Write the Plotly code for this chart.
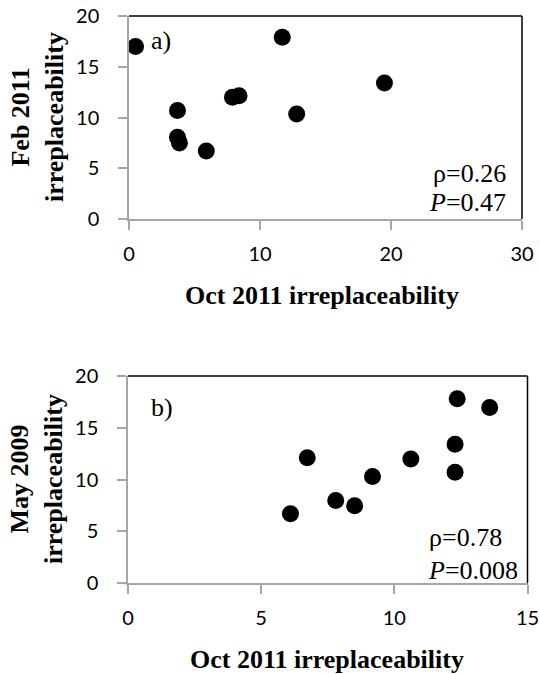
import plotly.graph_objects as go

# Panel a data
a_x = [0.5, 11.7, 19.5, 3.7, 7.9, 8.4, 12.8, 3.7, 3.85, 5.9]
a_y = [17.0, 17.9, 13.4, 10.7, 12.0, 12.15, 10.35, 8.05, 7.5, 6.7]
# Panel b data
b_x = [12.36, 13.58, 12.28, 12.28, 10.62, 6.73, 9.18, 7.8, 8.51, 6.1]
b_y = [17.8, 16.96, 13.4, 10.69, 11.98, 12.1, 10.3, 7.97, 7.46, 6.69]

a_xticks = [0, 10, 20, 30]
b_xticks = [0, 5, 10, 15]
yticks = [0, 5, 10, 15, 20]

W, H = 540, 674
dom_a_x = [129 / W, 522 / W]
dom_a_y = [1 - 219 / H, 1 - 16 / H]
dom_b_x = [128 / W, 527.5 / W]
dom_b_y = [1 - 583 / H, 1 - 376 / H]

fig = go.Figure()
fig.add_trace(go.Scatter(x=a_x, y=a_y, mode="markers", xaxis="x", yaxis="y",
                         marker=dict(size=17, color="black"), showlegend=False))
fig.add_trace(go.Scatter(x=b_x, y=b_y, mode="markers", xaxis="x2", yaxis="y2",
                         marker=dict(size=17, color="black"), showlegend=False))

tickfont = dict(family="Lato", size=20, color="black")
axcommon = dict(showgrid=False, zeroline=False, showline=True, linecolor="#a6a6a6",
                linewidth=1.5, ticks="outside", tickcolor="#a6a6a6", ticklen=9,
                tickwidth=1.5, tickfont=tickfont, automargin=False)

fig.update_layout(
    width=W, height=H, margin=dict(l=0, r=0, t=0, b=0, autoexpand=False),
    plot_bgcolor="white", paper_bgcolor="white",
    xaxis=dict(domain=dom_a_x, anchor="y", range=[0, 30], tickvals=a_xticks,
               ticklabelstandoff=7, **axcommon),
    yaxis=dict(domain=dom_a_y, anchor="x", range=[0, 20], tickvals=yticks,
               ticklabelstandoff=15, **axcommon),
    xaxis2=dict(domain=dom_b_x, anchor="y2", range=[0, 15], tickvals=b_xticks,
                ticklabelstandoff=7, **axcommon),
    yaxis2=dict(domain=dom_b_y, anchor="x2", range=[0, 20], tickvals=yticks,
                ticklabelstandoff=15, **axcommon),
)

# top and right black frame
for xr, yr in [("x", "y"), ("x2", "y2")]:
    fig.add_shape(type="line", xref=xr + " domain", yref=yr + " domain", x0=0, x1=1, y0=1, y1=1,
                  line=dict(color="black", width=1.5))
    fig.add_shape(type="line", xref=xr + " domain", yref=yr + " domain", x0=1, x1=1, y0=0, y1=1,
                  line=dict(color="black", width=1.5))

serif = "Liberation Serif"
titlefont = dict(family=serif, size=26, color="black")

def ann(**k):
    fig.add_annotation(showarrow=False, **k)

# axis titles
ann(text="<b>Oct 2011 irreplaceability</b>", xref="paper", yref="paper",
    x=322 / W, y=1 - 295 / H, yanchor="middle", font=titlefont)
ann(text="<b>Oct 2011 irreplaceability</b>", xref="paper", yref="paper",
    x=327 / W, y=1 - 659 / H, yanchor="middle", font=titlefont)
ann(text="<b>Feb 2011<br>irreplaceability</b>", xref="paper", yref="paper",
    x=37 / W, y=1 - 117 / H, textangle=-90, xanchor="center", yanchor="middle", font=titlefont)
ann(text="<b>May 2009<br>irreplaceability</b>", xref="paper", yref="paper",
    x=37 / W, y=1 - 479 / H, textangle=-90, xanchor="center", yanchor="middle", font=titlefont)

# panel labels and stats
lab = dict(family=serif, size=26, color="black")
ann(text="a)", xref="paper", yref="paper", x=149 / W, y=1 - 40 / H, xanchor="left", yanchor="middle", font=lab)
ann(text="b)", xref="paper", yref="paper", x=149 / W, y=1 - 407 / H, xanchor="left", yanchor="middle", font=lab)
ann(text="ρ=0.26", xref="paper", yref="paper", x=508 / W, y=1 - 173 / H, xanchor="right", yanchor="middle", font=lab)
ann(text="<i>P</i>=0.47", xref="paper", yref="paper", x=508 / W, y=1 - 202 / H, xanchor="right", yanchor="middle", font=lab)
ann(text="ρ=0.78", xref="paper", yref="paper", x=504 / W, y=1 - 537 / H, xanchor="right", yanchor="middle", font=lab)
ann(text="<i>P</i>=0.008", xref="paper", yref="paper", x=520 / W, y=1 - 570 / H, xanchor="right", yanchor="middle", font=lab)

fig.write_html("out.html")
